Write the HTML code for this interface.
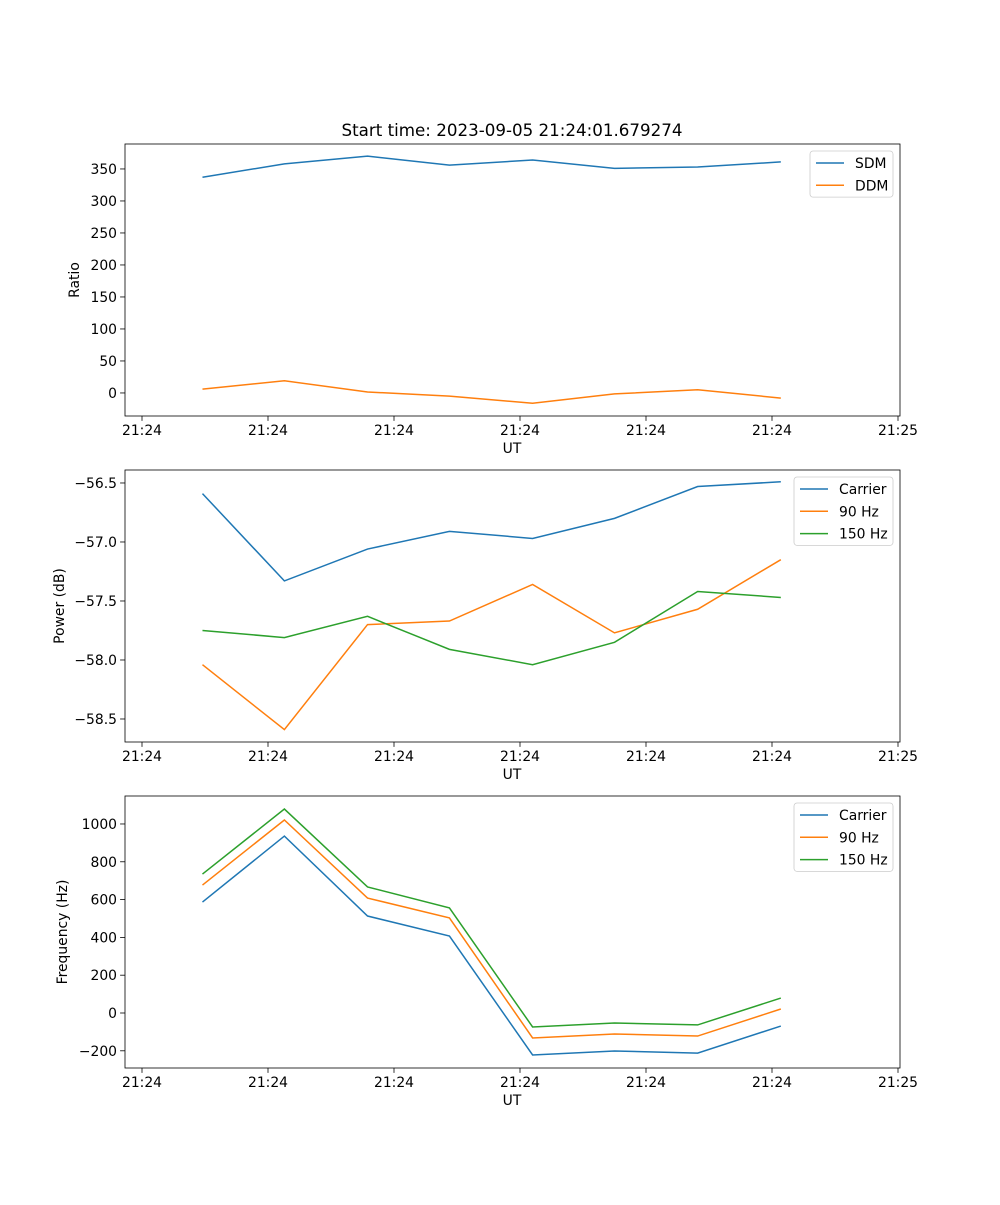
<!DOCTYPE html>
<html><head><meta charset="utf-8"><style>
body{margin:0;background:#fff}
svg text{font-family:"DejaVu Sans","Liberation Sans",sans-serif;font-size:13.9px;fill:#000}
</style></head><body>
<svg id="fig" width="1000" height="1200" viewBox="0 0 1000 1200" xmlns="http://www.w3.org/2000/svg">
<rect width="1000" height="1200" fill="#fff"/>
<text x="512" y="136" text-anchor="middle" style="font-size:16.7px">Start time: 2023-09-05 21:24:01.679274</text>
</svg>
<script>
const times = [4.8, 11.3, 17.9, 24.4, 31.0, 37.5, 44.1, 50.7];
const xTicks = [0, 10, 20, 30, 40, 50, 60];
const xTickLabels = ['21:24','21:24','21:24','21:24','21:24','21:24','21:25'];
const sdm = [337, 358, 370, 356, 364, 351, 353, 361];
const ddm = [6, 19, 1.5, -5, -16, -1.5, 5, -8];
const ratioTicks = [0, 50, 100, 150, 200, 250, 300, 350];
const powCarrier = [-56.59, -57.33, -57.06, -56.91, -56.97, -56.80, -56.53, -56.49];
const pow90 = [-58.04, -58.59, -57.70, -57.67, -57.36, -57.77, -57.57, -57.15];
const pow150 = [-57.75, -57.81, -57.63, -57.91, -58.04, -57.85, -57.42, -57.47];
const powTicks = [-58.5, -58.0, -57.5, -57.0, -56.5];
const freqCarrier = [587, 936, 513, 407, -222, -201, -212, -69];
const freq90 = [677, 1021, 608, 503, -132, -111, -122, 21];
const freq150 = [735, 1079, 667, 556, -74, -53, -63, 79];
const freqTicks = [-200, 0, 200, 400, 600, 800, 1000];

const NS='http://www.w3.org/2000/svg';
const svg=document.getElementById('fig');
function el(tag,attrs,parent){const e=document.createElementNS(NS,tag);for(const k in attrs)e.setAttribute(k,attrs[k]);(parent||svg).appendChild(e);return e;}
const L=125,R=900;
const xs=t=>142+(t-0)*(898-142)/60;
const C=['#1f77b4','#ff7f0e','#2ca02c'];

function panel(name,top,bot,ymin,ymax,ticks,fmt,ylabel,ylx,series,names,legW){
  const g=el('g',{});
  
  
  const ys=v=>bot-(v-ymin)/(ymax-ymin)*(bot-top);
  xTicks.forEach((t,i)=>{
    const x=xs(t);
    const tk=el('line',{x1:x,x2:x,y1:bot,y2:bot+4.9,stroke:'#000','stroke-width':0.8},g);
    
    
    const tx=el('text',{x:x,y:bot+19,'text-anchor':'middle'},g);tx.textContent=xTickLabels[i];
    
    
  });
  ticks.forEach(v=>{
    const y=ys(v);
    const tk=el('line',{x1:L-4.9,x2:L,y1:y,y2:y,stroke:'#000','stroke-width':0.8},g);
    
    
    const tx=el('text',{x:L-8,y:y+5,'text-anchor':'end'},g);tx.textContent=fmt(v);
    
    
  });
  const xl=el('text',{x:512,y:bot+37,'text-anchor':'middle'},g);xl.textContent='UT';
  
  
  const cy=(top+bot)/2;
  const yl=el('text',{x:ylx,y:cy,'text-anchor':'middle',transform:`rotate(-90 ${ylx} ${cy})`},g);yl.textContent=ylabel;
  
  
  series.forEach((s,i)=>{
    const p=el('polyline',{points:s.map((v,j)=>xs(times[j])+','+ys(v)).join(' '),fill:'none',stroke:C[i],'stroke-width':1.5},g);
    
    
  });
  const fr=el('rect',{x:L,y:top,width:R-L,height:bot-top,fill:'none',stroke:'#000','stroke-width':0.8},g);
  
  
  const lg=el('g',{},g);
  
  
  const lx=893-legW, ly=top+7;
  el('rect',{x:lx,y:ly,width:legW,height:names.length*22.3+1.5,rx:3,fill:'#fff','fill-opacity':0.8,stroke:'#ccc','stroke-width':0.8},lg);
  names.forEach((n,i)=>{
    const y=ly+12+i*22.3;
    const e=el('line',{x1:lx+6,x2:lx+34,y1:y,y2:y,stroke:C[i],'stroke-width':1.5},lg);
    
    
    const t=el('text',{x:lx+45,y:y+5},lg);t.textContent=n;
    
    
  });
}
panel('ratio-panel',144,416,-36,389,ratioTicks,v=>String(v),'Ratio',79,[sdm,ddm],['SDM','DDM'],83);
panel('power-panel',470,742,-58.695,-56.39,powTicks,v=>'\u2212'+Math.abs(v).toFixed(1),'Power (dB)',64,[powCarrier,pow90,pow150],['Carrier','90 Hz','150 Hz'],99);
panel('frequency-panel',796,1068,-291,1148,freqTicks,v=>v<0?'\u2212'+Math.abs(v):String(v),'Frequency (Hz)',67,[freqCarrier,freq90,freq150],['Carrier','90 Hz','150 Hz'],99);
</script>
</body></html>
